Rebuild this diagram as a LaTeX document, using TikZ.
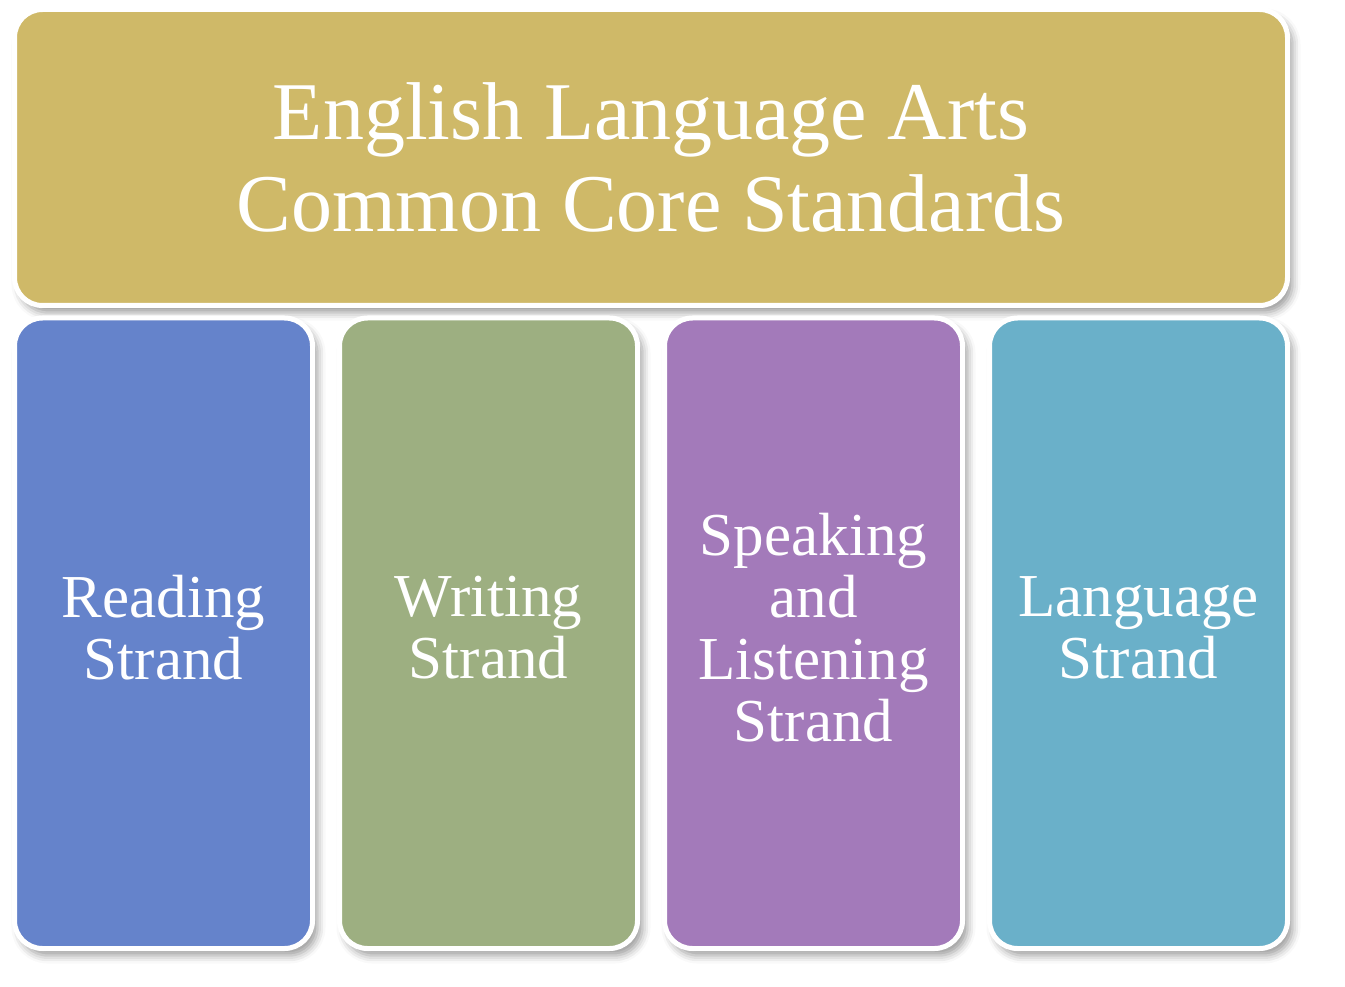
\documentclass[tikz,border=0pt]{standalone}
\usepackage{fontspec}
\setmainfont{Liberation Serif}
\usepackage{xcolor}
\usetikzlibrary{positioning,shadows,shadows.blur}
\definecolor{elagold}{HTML}{CFB968}
\definecolor{readblue}{HTML}{6583CB}
\definecolor{writegreen}{HTML}{9DAF81}
\definecolor{speakpurple}{HTML}{A37ABA}
\definecolor{langteal}{HTML}{6AB0C9}
\begin{document}
\begin{tikzpicture}[x=1pt, y=1pt]
\tikzstyle{card}=[draw=white, line width=5pt, rounded corners=28pt, outer sep=0pt, inner sep=0pt, text=white, align=center, blur shadow={shadow xshift=5pt, shadow yshift=-7pt, shadow blur radius=8pt, shadow opacity=40}]
\tikzstyle{strand}=[card, minimum width=298pt, minimum height=630.5pt, font=\fontsize{61}{62}\selectfont]
\useasboundingbox (0,0) rectangle (1345,-987);

\node[card, fill=elagold, minimum width=1273pt, minimum height=296pt, anchor=north west, font=\fontsize{82}{92}\selectfont] (ela) at (14.5,-9.5) {English Language Arts\\Common Core Standards};
\node[strand, fill=readblue, below right=12.5pt and 0pt of ela.south west] (read) {Reading\\Strand\\[-50pt]};
\node[strand, fill=writegreen, right=27pt of read] (write) {Writing\\Strand\\[-50pt]};
\node[strand, fill=speakpurple, right=27pt of write] (speak) {Speaking\\and\\Listening\\Strand\\[-50pt]};
\node[strand, fill=langteal, right=27pt of speak] (lang) {Language\\Strand\\[-50pt]};
\end{tikzpicture}
\end{document}
